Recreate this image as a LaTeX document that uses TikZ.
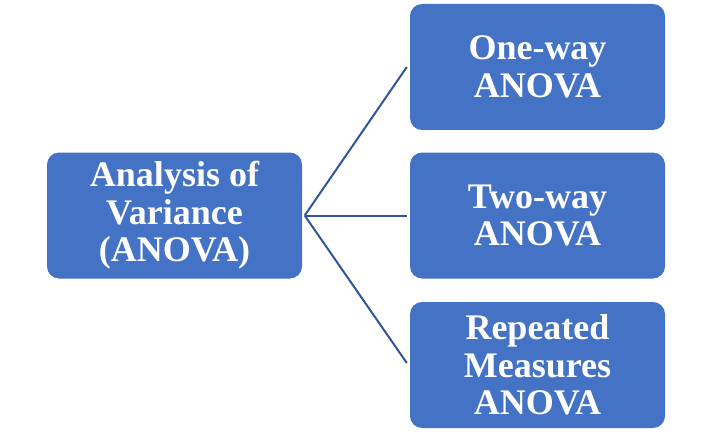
\documentclass[tikz,border=0pt]{standalone}
\usepackage{fontspec}
\setmainfont{Liberation Serif}
\usetikzlibrary{calc}
\definecolor{boxblue}{HTML}{4472C4}
\definecolor{linkblue}{HTML}{30559A}
\begin{document}
\begin{tikzpicture}[x=1pt,y=-1pt,
  box/.style={fill=boxblue, rounded corners=12pt, minimum width=255pt,
    minimum height=126pt, inner sep=0pt, align=center, text=white,
    font=\fontsize{36}{37.5}\selectfont\bfseries},
  link/.style={draw=linkblue, line width=2pt}]
\useasboundingbox (0,0) rectangle (713,444);
\node[box] (root) at (174.5,215.5) {Analysis of\\Variance\\(ANOVA)};
\node[box] (one) at (537.5,67) {One-way\\ANOVA};
\node[box] (two) at (537.5,215.5) {Two-way\\ANOVA};
\node[box] (rep) at (537.5,365) {Repeated\\Measures\\ANOVA};
\coordinate (hub) at ($(root.east)+(2.5,0)$);
\draw[link] (hub) -- ($(one.west)+(-3,0)$);
\draw[link] (hub) -- ($(two.west)+(-3,0)$);
\draw[link] (hub) -- ($(rep.west)+(-3,-2)$);
\end{tikzpicture}
\end{document}
